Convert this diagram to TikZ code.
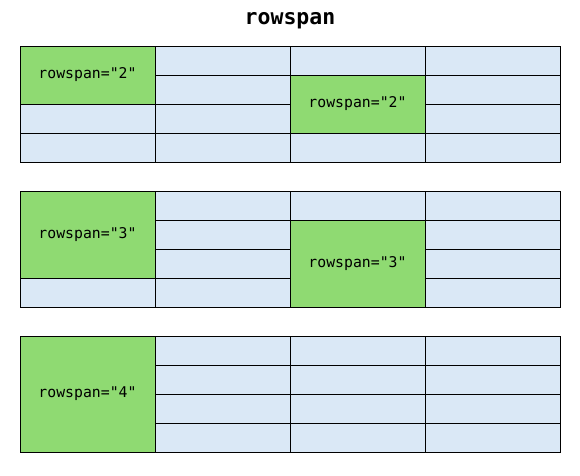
\documentclass[tikz,border=0pt]{standalone}
\usepackage{fontspec}
\newfontfamily\monofont{DejaVu Sans Mono}
\definecolor{cellblue}{HTML}{DAE8F6}
\definecolor{cellgreen}{HTML}{8FDA72}
\begin{document}
\begin{tikzpicture}[x=1pt,y=-1pt,
  cellbase/.style={draw=black, line width=1pt, minimum width=135pt, inner sep=0pt, outer sep=0pt, anchor=north west, font=\monofont\fontsize{14.8}{17}\selectfont},
  bcell/.style={cellbase, fill=cellblue, minimum height=29pt},
  gcell/.style={cellbase, fill=cellgreen, minimum height=#1*29pt},
  titletext/.style={font=\monofont\bfseries\fontsize{21.5}{25}\selectfont}]
\useasboundingbox (0,0) rectangle (580,475);
\node[titletext] (title) at (290,21) {rowspan};
% table 1
\foreach \c/\r in {0/2,0/3,1/0,1/1,1/2,1/3,2/0,2/3,3/0,3/1,3/2,3/3}
  \node[bcell] (a-\c-\r) at ({20+135*\c},{46+29*\r}) {};
\node[gcell=2] (a-g1) at (20,46) {rowspan="2"};
\node[gcell=2] (a-g2) at (290,75) {rowspan="2"};
% table 2
\foreach \c/\r in {0/3,1/0,1/1,1/2,1/3,2/0,3/0,3/1,3/2,3/3}
  \node[bcell] (b-\c-\r) at ({20+135*\c},{191+29*\r}) {};
\node[gcell=3] (b-g1) at (20,191) {rowspan="3"};
\node[gcell=3] (b-g2) at (290,220) {rowspan="3"};
% table 3
\foreach \c/\r in {1/0,1/1,1/2,1/3,2/0,2/1,2/2,2/3,3/0,3/1,3/2,3/3}
  \node[bcell] (c-\c-\r) at ({20+135*\c},{336+29*\r}) {};
\node[gcell=4] (c-g1) at (20,336) {rowspan="4"};
\end{tikzpicture}
\end{document}
